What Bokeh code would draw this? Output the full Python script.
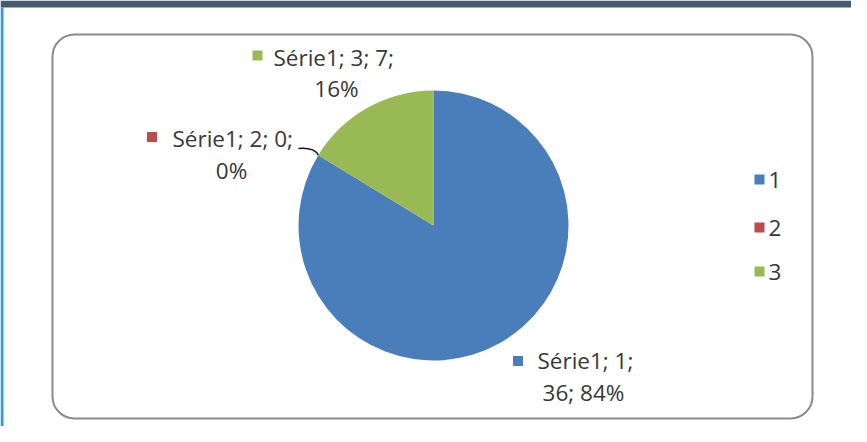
import numpy as np
from bokeh.plotting import figure
from bokeh.models import Range1d, BoxAnnotation, ColumnDataSource
from bokeh.core.properties import value
from bokeh.embed import file_html
from bokeh.resources import INLINE

# ---- data ----
categories = ["1", "2", "3"]
values = [36, 0, 7]
percents = ["84%", "0%", "16%"]
series_name = "Série1"
colors = ["#4A7EBB", "#BE4B48", "#98B954"]

W, H = 851, 426
FONT = "Open Sans"
FS = "22.5px"
TXT = "#383838"

p = figure(width=W, height=H, output_backend="svg", toolbar_location=None,
           x_range=Range1d(0, W), y_range=Range1d(0, H), min_border=0,
           background_fill_color="white", border_fill_color="white")
p.axis.visible = False
p.grid.visible = False
p.outline_line_color = None

def X(ix):
    return ix

def Y(iy):
    return H - iy

# page decorations (dark top band, blue left rule)
p.add_layout(BoxAnnotation(left=0, right=W, top=Y(0), bottom=Y(7),
                           fill_color="#475B70", fill_alpha=1.0, line_color=None,
                           level="underlay"))
p.add_layout(BoxAnnotation(left=0, right=3, top=Y(7), bottom=0,
                           fill_color="#2F9BE0", fill_alpha=1.0, line_color=None,
                           level="underlay"))

# rounded chart frame
p.add_layout(BoxAnnotation(left=X(52), right=X(812), top=Y(34), bottom=Y(418),
                           border_radius=22, fill_color="white", fill_alpha=1.0,
                           line_color="#8A8A8A", line_alpha=1.0, line_width=2,
                           level="underlay"))

# pie
cx, cy, r = X(433), Y(225), 135
total = sum(values)
fr = np.array(values) / total
cum_end = np.cumsum(fr)
cum_start = cum_end - fr
start = np.pi / 2 - cum_end * 2 * np.pi
end = np.pi / 2 - cum_start * 2 * np.pi
keep = fr > 0
src = ColumnDataSource(dict(x=[cx] * int(keep.sum()), y=[cy] * int(keep.sum()),
                            start=start[keep], end=end[keep],
                            color=[c for c, k in zip(colors, keep) if k]))
p.wedge(x="x", y="y", radius=r, radius_units="screen", start_angle="start",
        end_angle="end", direction="anticlock", fill_color="color",
        line_color=None, source=src)

# data labels
label_key = [(X(517.5), Y(360.5)), (X(151.5), Y(136.5)), (X(257), Y(55))]
label_l1 = [(X(537), Y(360)), (X(172), Y(138)), (X(273), Y(57))]
label_l2 = [(X(583), Y(392)), (X(231), Y(170)), (X(336), Y(88))]
line1 = [f"{series_name}; {categories[0]};",
         f"{series_name}; {categories[1]}; {values[1]};",
         f"{series_name}; {categories[2]}; {values[2]};"]
line2 = [f"{values[0]}; {percents[0]}", percents[1], percents[2]]

p.scatter([k[0] for k in label_key], [k[1] for k in label_key], marker="square",
          size=10, fill_color=colors, line_color=None)
p.text([a[0] for a in label_l1], [a[1] for a in label_l1], text=line1,
       text_font=value(FONT), text_font_size=FS, text_color=TXT,
       text_align="left", text_baseline="middle")
p.text([a[0] for a in label_l2], [a[1] for a in label_l2], text=line2,
       text_font=value(FONT), text_font_size=FS, text_color=TXT,
       text_align="center", text_baseline="middle")

# leader line for the zero slice
ang = np.pi / 2 - cum_start[2] * 2 * np.pi + 2 * np.pi
ex, ey = cx + r * np.cos(ang), cy + r * np.sin(ang)
p.bezier(x0=[X(298)], y0=[Y(148)], x1=[ex], y1=[ey],
         cx0=[X(311)], cy0=[Y(147)], cx1=[ex - 2], cy1=[ey + 4],
         line_color="#1A1A1A", line_width=1.5)

# legend
leg_y = [Y(179), Y(227), Y(271)]
p.scatter([X(759)] * 3, leg_y, marker="square", size=10, fill_color=colors,
          line_color=None)
p.text([X(768)] * 3, leg_y, text=categories, text_font=value(FONT),
       text_font_size=FS, text_color=TXT, text_align="left",
       text_baseline="middle")

open("out.html", "w").write(file_html(p, INLINE))
